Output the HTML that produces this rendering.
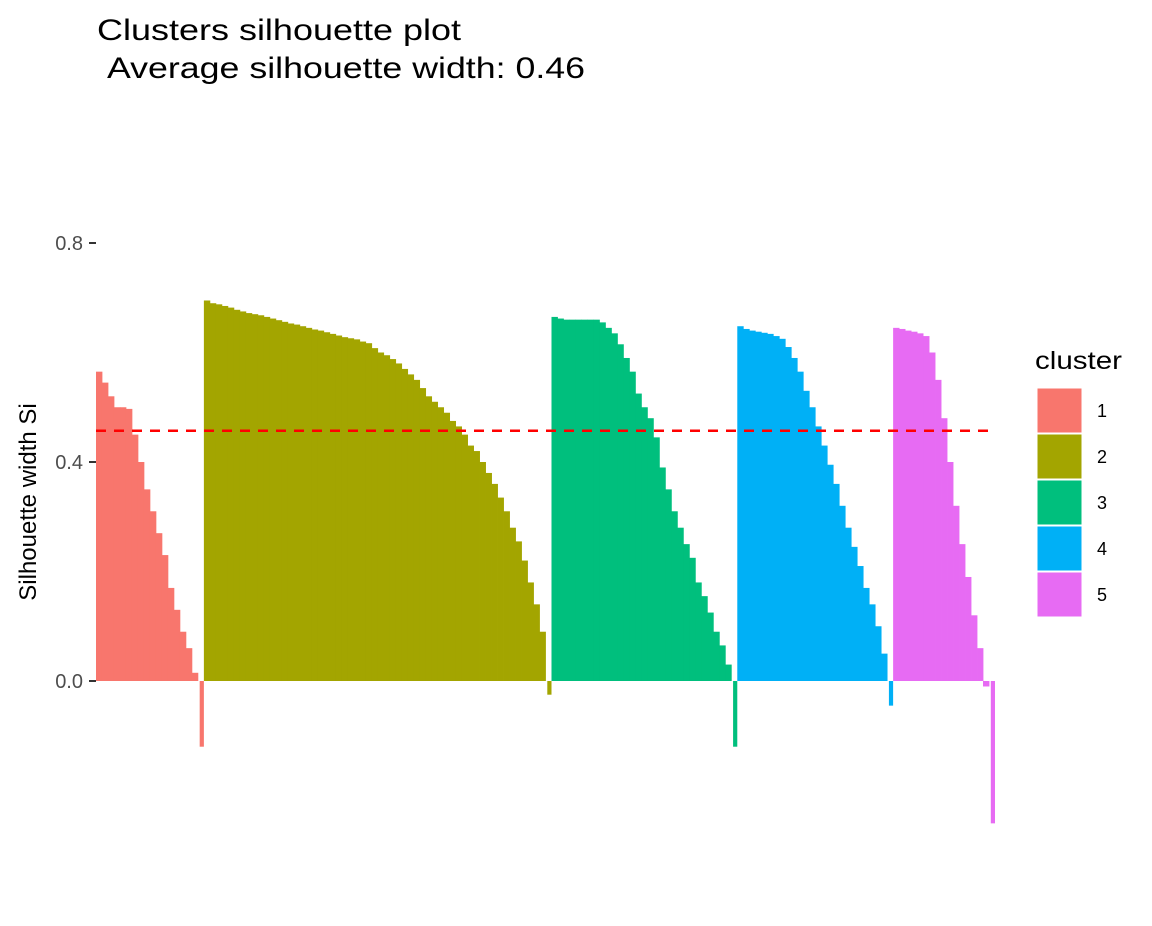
<!DOCTYPE html>
<html><head><meta charset="utf-8"><style>
body{margin:0;background:#fff;font-family:"Liberation Sans",sans-serif}
</style></head><body>
<svg width="1152" height="921" xmlns="http://www.w3.org/2000/svg">
<text x="97" y="40" font-size="30" textLength="364" lengthAdjust="spacingAndGlyphs">Clusters silhouette plot</text>
<text x="107" y="78" font-size="30" textLength="478" lengthAdjust="spacingAndGlyphs">Average silhouette width: 0.46</text>
<g id="bars"></g>
<g id="axis"></g>
<text transform="translate(36,502) rotate(-90)" text-anchor="middle" font-size="24">Silhouette width Si</text>
<g id="legend"></g>
</svg>
<script>
const c1=[0.565,0.545,0.52,0.50,0.50,0.497,0.45,0.40,0.35,0.31,0.27,0.23,0.17,0.13,0.09,0.06,0.015,-0.12];
const c2=[0.695,0.69,0.688,0.685,0.682,0.678,0.675,0.672,0.670,0.668,0.665,0.662,0.659,0.656,0.653,0.651,0.648,0.645,0.642,0.64,0.637,0.634,0.631,0.628,0.626,0.624,0.62,0.617,0.608,0.60,0.595,0.588,0.58,0.57,0.56,0.55,0.535,0.52,0.51,0.50,0.49,0.475,0.465,0.45,0.43,0.42,0.40,0.38,0.36,0.335,0.31,0.28,0.255,0.22,0.18,0.14,0.09,-0.025];
const c3=[0.665,0.662,0.66,0.66,0.66,0.66,0.66,0.66,0.655,0.645,0.635,0.615,0.59,0.565,0.525,0.50,0.48,0.445,0.39,0.35,0.31,0.28,0.25,0.225,0.18,0.155,0.125,0.09,0.065,0.03,-0.12];
const c4=[0.648,0.643,0.64,0.638,0.636,0.634,0.63,0.625,0.61,0.59,0.565,0.53,0.50,0.465,0.43,0.395,0.36,0.32,0.28,0.245,0.21,0.17,0.14,0.10,0.05,-0.045];
const c5=[0.645,0.643,0.64,0.638,0.635,0.63,0.60,0.55,0.48,0.40,0.32,0.25,0.19,0.12,0.06,-0.01,-0.26];
const clusterData=[c1,c2,c3,c4,c5];
const clusterLabels=["1","2","3","4","5"];
const yTicks=[0,0.4,0.8];
const avgWidth=0.457;
const colors=["#F8766D","#A3A500","#00BF7D","#00B0F6","#E76BF3"];
const NS="http://www.w3.org/2000/svg";
const x0=96,x1=995,yZero=681,yPer=547.5;
const y=v=>yZero-v*yPer;
const total=clusterData.reduce((a,c)=>a+c.length,0);
const band=(x1-x0)/total;
const bars=document.getElementById('bars');
let idx=0;
clusterData.forEach((arr,ci)=>{
  arr.forEach((v,k)=>{
    const r=document.createElementNS(NS,'rect');
    const neg=v<0&&k===arr.length-1;
    r.setAttribute('x',x0+idx*band+(neg?band*0.3:0));
    r.setAttribute('width',neg?band*0.7:band+0.4);
    r.setAttribute('y',Math.min(y(v),yZero));
    r.setAttribute('height',Math.abs(y(v)-yZero));
    r.setAttribute('fill',colors[ci]);
    
    
    bars.appendChild(r);idx++;
  });
});
const hl=document.createElementNS(NS,'line');
hl.setAttribute('x1',x0);hl.setAttribute('x2',x1);
hl.setAttribute('y1',y(avgWidth));hl.setAttribute('y2',y(avgWidth));
hl.setAttribute('stroke','#FF0000');hl.setAttribute('stroke-width','2.5');hl.setAttribute('stroke-dasharray','10,8');


bars.appendChild(hl);
const ax=document.getElementById('axis');
yTicks.forEach(t=>{
  const l=document.createElementNS(NS,'line');
  l.setAttribute('x1',89);l.setAttribute('x2',96);l.setAttribute('y1',y(t));l.setAttribute('y2',y(t));
  l.setAttribute('stroke','#333');l.setAttribute('stroke-width','2');
  
  
  ax.appendChild(l);
  const tx=document.createElementNS(NS,'text');
  tx.setAttribute('x',83);tx.setAttribute('y',y(t)+7);tx.setAttribute('text-anchor','end');
  tx.setAttribute('font-size','20');tx.setAttribute('fill','#4d4d4d');
  tx.textContent=t.toFixed(1);
  
  
  ax.appendChild(tx);
});
const lg=document.getElementById('legend');
const lt=document.createElementNS(NS,'text');
lt.setAttribute('x',1035);lt.setAttribute('y',369);lt.setAttribute('font-size','25');lt.setAttribute('textLength','87');lt.setAttribute('lengthAdjust','spacingAndGlyphs');lt.textContent='cluster';


lg.appendChild(lt);
clusterLabels.forEach((lab,i)=>{
  const r=document.createElementNS(NS,'rect');
  r.setAttribute('x',1037);r.setAttribute('y',388+i*46);r.setAttribute('width',45);r.setAttribute('height',45);
  r.setAttribute('fill',colors[i]);r.setAttribute('stroke','#fff');r.setAttribute('stroke-width','1');
  
  
  lg.appendChild(r);
  const t=document.createElementNS(NS,'text');
  t.setAttribute('x',1097);t.setAttribute('y',388+i*46+29);t.setAttribute('font-size','18');t.textContent=lab;
  
  
  lg.appendChild(t);
});
</script>
</body></html>
